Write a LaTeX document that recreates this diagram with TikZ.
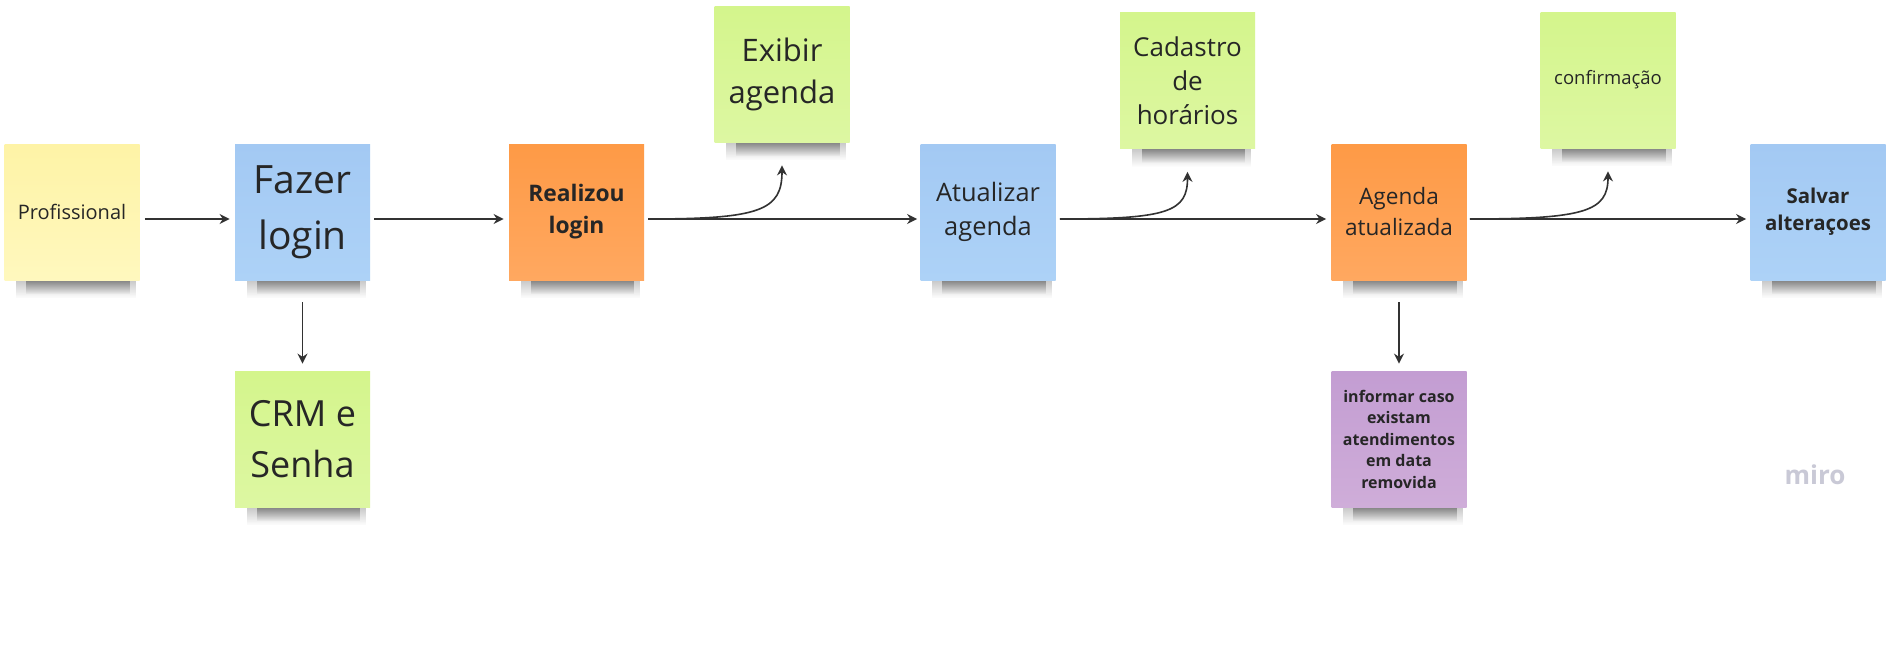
\documentclass[tikz,border=0pt]{standalone}
\usepackage{fontspec}
\setmainfont{Open Sans}
\usetikzlibrary{arrows.meta,calc,fadings,backgrounds}
\definecolor{txt}{RGB}{38,38,38}
\definecolor{lnc}{RGB}{50,50,50}
\definecolor{yT}{RGB}{254,243,166}
\definecolor{yB}{RGB}{255,248,190}
\definecolor{bT}{RGB}{163,201,243}
\definecolor{bB}{RGB}{173,210,247}
\definecolor{oT}{RGB}{254,154,70}
\definecolor{oB}{RGB}{255,168,96}
\definecolor{gT}{RGB}{212,245,140}
\definecolor{gB}{RGB}{221,247,162}
\definecolor{pT}{RGB}{195,157,210}
\definecolor{pB}{RGB}{207,173,217}
\definecolor{miroc}{RGB}{201,201,214}
\tikzfading[name=shfade, top color=transparent!35, bottom color=transparent!100]
\newcommand\fsz[2]{\fontsize{#1}{#2}\selectfont}
\newcommand\noteshadow[1]{%
  \fill[black,path fading=shfade,opacity=.55] ($(#1.south west)+(22,-1)$) rectangle ($(#1.south east)+(-10,14)$);
  \fill[black,path fading=shfade,opacity=.35] ($(#1.south west)+(12,-1)$) rectangle ($(#1.south east)+(-4,18)$);}
\tikzset{
  note/.style={rectangle, minimum width=67.5pt, minimum height=68pt, inner sep=2pt, align=center, text=txt},
  ynote/.style={note, top color=yT, bottom color=yB},
  bnote/.style={note, top color=bT, bottom color=bB},
  onote/.style={note, top color=oT, bottom color=oB},
  gnote/.style={note, top color=gT, bottom color=gB},
  pnote/.style={note, top color=pT, bottom color=pB},
  arr/.style={draw=lnc, line width=0.8pt, -{Stealth[length=5pt,width=5pt]}}
}
\begin{document}
\begin{tikzpicture}[x=0.5pt,y=-0.5pt]
\useasboundingbox (0,0) rectangle (1890,648);
% notes
\node[ynote, font=\fsz{10}{14}] (prof) at (72,212) {Profissional};
\node[bnote, font=\fsz{19.5}{28}] (fazer) at (302.5,212) {Fazer\\login};
\node[onote, font=\bfseries\fsz{11.4}{16}] (real) at (576.5,212) {Realizou\\login};
\node[gnote, font=\fsz{18}{25.5}] (crm) at (302.5,439) {CRM e\\Senha};
\node[gnote, font=\fsz{15.5}{21}] (exibir) at (782,74) {Exibir\\agenda};
\node[bnote, font=\fsz{12.7}{17}] (atual) at (988,212) {Atualizar\\agenda};
\node[gnote, font=\fsz{13}{17}] (cad) at (1187.5,80.5) {Cadastro\\de\\horários};
\node[onote, font=\fsz{11.3}{15.5}] (agenda) at (1399,212) {Agenda\\atualizada};
\node[gnote, font=\fsz{9.25}{12}] (conf) at (1608,80) {confirmação};
\node[bnote, font=\bfseries\fsz{10.2}{13.5}] (salvar) at (1818,212) {Salvar\\alteraçoes};
\node[pnote, font=\bfseries\fsz{8}{10.75}] (info) at (1399,439) {informar caso\\existam\\atendimentos\\em data\\removida};
\node[font=\bfseries\fsz{13}{13}, text=miroc] (miro) at (1815,475) {miro};
% shadows and background
\begin{scope}[on background layer]
\fill[white] (0,0) rectangle (1890,648);
\noteshadow{prof}
\noteshadow{fazer}
\noteshadow{real}
\noteshadow{crm}
\noteshadow{exibir}
\noteshadow{atual}
\noteshadow{cad}
\noteshadow{agenda}
\noteshadow{conf}
\noteshadow{salvar}
\noteshadow{info}
\end{scope}
% connectors
\draw[arr] ($(prof.east)+(5,7)$) -- ($(fazer.west)+(-5,7)$);
\draw[arr] ($(fazer.east)+(4,7)$) -- ($(real.west)+(-5,7)$);
\draw[arr] ($(fazer.south)+(0,22)$) -- ($(crm.north)+(0,-7)$);
\draw[arr] ($(real.east)+(4,7)$) -- ($(atual.west)+(-3,7)$);
\draw[arr] ($(real.east)+(4,7)$) .. controls +(112,0) and +(0,45) .. ($(exibir.south)+(0,23)$);
\draw[arr] ($(atual.east)+(4,7)$) -- ($(agenda.west)+(-5,7)$);
\draw[arr] ($(atual.east)+(4,7)$) .. controls +(108,0) and +(0,40) .. ($(cad.south)+(0,23)$);
\draw[arr] ($(agenda.east)+(3,7)$) -- ($(salvar.west)+(-4,7)$);
\draw[arr] ($(agenda.east)+(3,7)$) .. controls +(115,0) and +(0,40) .. ($(conf.south)+(0,23)$);
\draw[arr] ($(agenda.south)+(0,22)$) -- ($(info.north)+(0,-7)$);
\end{tikzpicture}
\end{document}
